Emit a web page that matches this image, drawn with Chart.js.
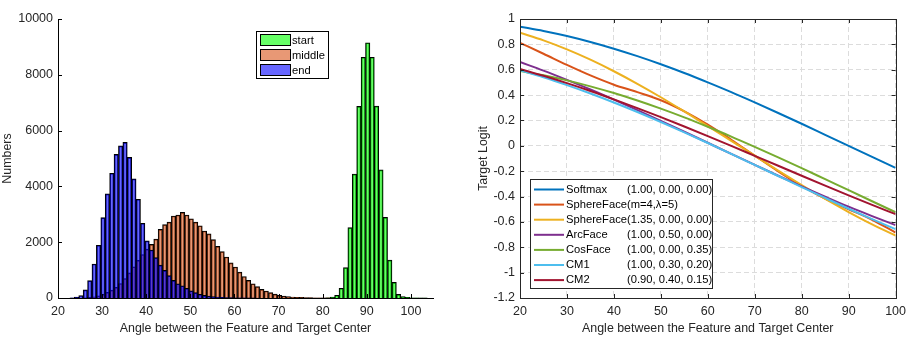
<!DOCTYPE html>
<html>
<head>
<meta charset="utf-8">
<script src="https://cdn.jsdelivr.net/npm/chart.js@4.4.1/dist/chart.umd.min.js"></script>
<style>
  html, body { margin: 0; padding: 0; background: #fff; }
  #wrap { position: relative; width: 912px; height: 338px; }
  canvas { position: absolute; top: 0; }
  #histChart { left: 0; }
  #logitChart { left: 456px; }
</style>
</head>
<body>
<div id="wrap">
  <canvas id="histChart" width="456" height="338"></canvas>
  <canvas id="logitChart" width="456" height="338"></canvas>
</div>
<script>
// Histogram data: left edge of first bin (bin width 1) and counts per bin
const histNames = ['start', 'middle', 'end'];
const startFirstEdge = 80.7;
const startCounts = [10, 30, 100, 350, 1090, 2520, 4440, 6870, 8630, 9150, 8630, 6880, 4590, 2890, 1360, 560, 130, 50, 25, 10, 5, 3, 2];
const middleFirstEdge = 25.7;
const middleCounts = [10, 20, 40, 80, 130, 200, 280, 380, 520, 700, 900, 1120, 1350, 1560, 1750, 1920,
  2110, 2460, 2630, 2720, 2940, 2975, 3070, 2975, 2840, 2720, 2590, 2400, 2300, 2090, 1850, 1660, 1470,
  1260, 1110, 930, 770, 630, 510, 410, 310, 250, 190, 140, 95, 72, 48, 36, 25, 20, 15, 12, 10, 8, 6, 4];
const endFirstEdge = 22.7;
const endCounts = [10, 30, 90, 290, 620, 1220, 1890, 2880, 3730, 4470, 5150, 5450, 5580, 5040, 4270, 3540,
  2680, 2050, 1720, 1450, 1180, 990, 800, 630, 510, 440, 350, 260, 190, 135, 95, 72, 50, 36, 25, 18, 12, 8, 6, 4, 3, 2, 1];
const histColors = ['rgba(0,255,0,0.6)', 'rgba(217,83,25,0.6)', 'rgba(0,0,255,0.6)'];
const histXTicks = [20, 100, 10];     // min, max, step
const histYTicks = [0, 10000, 2000];

// Target logit curves, read every 5 degrees
const angles = [20, 25, 30, 35, 40, 45, 50, 55, 60, 65, 70, 75, 80, 85, 90, 95, 100];
const softmax = [0.940, 0.906, 0.866, 0.819, 0.766, 0.707, 0.643, 0.574, 0.500, 0.423, 0.342, 0.259, 0.174, 0.087, 0.000, -0.087, -0.174];
const sphereFaceM4 = [0.812, 0.726, 0.638, 0.555, 0.482, 0.423, 0.359, 0.272, 0.167, 0.048, -0.077, -0.201, -0.316, -0.417, -0.500, -0.583, -0.684];
const sphereFace135 = [0.891, 0.831, 0.760, 0.679, 0.588, 0.489, 0.383, 0.271, 0.156, 0.039, -0.078, -0.195, -0.309, -0.419, -0.522, -0.619, -0.707];
const arcFace = [0.661, 0.593, 0.520, 0.444, 0.364, 0.281, 0.197, 0.111, 0.024, -0.064, -0.150, -0.236, -0.320, -0.401, -0.480, -0.554, -0.625];
const cosFace = [0.590, 0.556, 0.516, 0.469, 0.416, 0.357, 0.293, 0.224, 0.150, 0.073, -0.008, -0.091, -0.176, -0.263, -0.350, -0.437, -0.524];
const cm1 = [0.597, 0.541, 0.479, 0.413, 0.342, 0.267, 0.188, 0.106, 0.022, -0.064, -0.151, -0.238, -0.325, -0.411, -0.496, -0.578, -0.657];
const cm2 = [0.606, 0.552, 0.494, 0.432, 0.366, 0.297, 0.226, 0.152, 0.076, -0.001, -0.079, -0.157, -0.236, -0.314, -0.391, -0.466, -0.539];
const lineSeries = [softmax, sphereFaceM4, sphereFace135, arcFace, cosFace, cm1, cm2];
const lineNames = ['Softmax', 'SphereFace(m=4,\u03bb=5)', 'SphereFace(1.35, 0.00, 0.00)', 'ArcFace', 'CosFace', 'CM1', 'CM2'];
const lineParams = ['(1.00, 0.00, 0.00)', '', '', '(1.00, 0.50, 0.00)', '(1.00, 0.00, 0.35)', '(1.00, 0.30, 0.20)', '(0.90, 0.40, 0.15)'];
const lineColors = ['#0072BD', '#D95319', '#EDB120', '#7E2F8E', '#77AC30', '#4DBEEE', '#A2142F'];
const logitXTicks = [20, 100, 10];
const logitYTicks = [-1.2, 1, 0.2];

const xTitle = 'Angle between the Feature and Target Center';
const fontFamily = '"Liberation Sans", Arial, sans-serif';
const axisColor = '#262626';
Chart.defaults.font.family = fontFamily;
Chart.defaults.color = axisColor;

const tickFont = { size: 12.5 };
const titleFont = { size: 12.4 };
const legendFont = '11.2px ' + fontFamily;

function toBins(firstEdge, counts) {
    return counts.map((c, i) => ({ x: firstEdge + i + 0.5, y: c }));
}

// Inward tick marks (and optional full box) like MATLAB axes
const innerTicks = {
    id: 'innerTicks',
    afterDraw(chart, args, opts) {
        const { ctx, chartArea: a, scales } = chart;
        const len = 4;
        ctx.save();
        ctx.strokeStyle = opts.color;
        ctx.lineWidth = 1;
        ctx.beginPath();
        scales.x.ticks.forEach(t => {
            const px = Math.round(scales.x.getPixelForValue(t.value)) + 0.5;
            ctx.moveTo(px, a.bottom); ctx.lineTo(px, a.bottom - len);
            if (opts.box) { ctx.moveTo(px, a.top); ctx.lineTo(px, a.top + len); }
        });
        scales.y.ticks.forEach(t => {
            const py = Math.round(scales.y.getPixelForValue(t.value)) + 0.5;
            ctx.moveTo(a.left, py); ctx.lineTo(a.left + len, py);
            if (opts.box) { ctx.moveTo(a.right, py); ctx.lineTo(a.right - len, py); }
        });
        ctx.stroke();
        if (opts.box) {
            ctx.strokeRect(Math.round(a.left) + 0.5, Math.round(a.top) + 0.5,
                Math.round(a.right - a.left), Math.round(a.bottom - a.top));
        }
        ctx.restore();
    }
};

const histLegend = {
    id: 'histLegend',
    afterDraw(chart) {
        const ctx = chart.ctx;
        ctx.save();
        ctx.fillStyle = '#fff';
        ctx.fillRect(256.5, 31.5, 72, 47);
        ctx.strokeStyle = '#000';
        ctx.lineWidth = 1;
        ctx.strokeRect(256.5, 31.5, 72, 47);
        ctx.font = legendFont;
        ctx.textBaseline = 'middle';
        histNames.forEach((name, i) => {
            const y = 34.5 + i * 15;
            ctx.fillStyle = histColors[i];
            ctx.fillRect(260.5, y, 30, 11);
            ctx.strokeStyle = '#000';
            ctx.strokeRect(260.5, y, 30, 11);
            ctx.fillStyle = '#000';
            ctx.fillText(name, 292, y + 6);
        });
        ctx.restore();
    }
};

const logitLegend = {
    id: 'logitLegend',
    afterDraw(chart) {
        const ctx = chart.ctx;
        ctx.save();
        ctx.fillStyle = '#fff';
        ctx.fillRect(74.5, 179.5, 182, 109);
        ctx.font = legendFont;
        ctx.textBaseline = 'middle';
        lineNames.forEach((name, i) => {
            const y = 189.5 + i * 15.1;
            ctx.strokeStyle = lineColors[i];
            ctx.lineWidth = 2;
            ctx.beginPath();
            ctx.moveTo(78, y); ctx.lineTo(108, y);
            ctx.stroke();
            ctx.fillStyle = '#000';
            ctx.fillText(name, 110, y);
            if (lineParams[i]) ctx.fillText(lineParams[i], 171, y);
        });
        ctx.strokeStyle = axisColor;
        ctx.lineWidth = 1;
        ctx.strokeRect(74.5, 179.5, 182, 109);
        ctx.restore();
    }
};

// Left: overlapping histograms, each on its own (identical) x axis so bars keep a 1-degree width
const hiddenX = { type: 'linear', display: false, min: histXTicks[0], max: 105, offset: false };
new Chart(document.getElementById('histChart'), {
    type: 'bar',
    data: {
        datasets: [
            { label: histNames[0], data: toBins(startFirstEdge, startCounts), xAxisID: 'xs', backgroundColor: histColors[0], order: 3 },
            { label: histNames[1], data: toBins(middleFirstEdge, middleCounts), xAxisID: 'xm', backgroundColor: histColors[1], order: 2 },
            { label: histNames[2], data: toBins(endFirstEdge, endCounts), xAxisID: 'x', backgroundColor: histColors[2], order: 1 }
        ]
    },
    options: {
        responsive: false,
        animation: false,
        events: [],
        layout: { padding: { top: 19, right: 23, left: 0, bottom: 0 } },
        datasets: {
            bar: { grouped: false, barPercentage: 1, categoryPercentage: 1, borderWidth: 1, borderColor: '#000' }
        },
        plugins: { legend: { display: false }, tooltip: { enabled: false }, innerTicks: { color: '#000', box: false } },
        scales: {
            x: {
                type: 'linear', min: histXTicks[0], max: 105, offset: false,
                ticks: { stepSize: histXTicks[2], includeBounds: false, font: tickFont, padding: 6, maxRotation: 0, autoSkip: false },
                grid: { display: false, drawTicks: false, offset: false },
                border: { display: true, color: '#000', width: 1 },
                title: { display: true, text: xTitle, font: titleFont, padding: { top: 0, bottom: 1.5 } },
                afterFit: s => { s.height = 40; }
            },
            xs: hiddenX,
            xm: hiddenX,
            y: {
                min: histYTicks[0], max: histYTicks[1],
                ticks: { stepSize: histYTicks[2], font: tickFont, padding: 5, callback: v => String(v) },
                grid: { display: false, drawTicks: false },
                border: { display: true, color: '#000', width: 1 },
                title: { display: true, text: 'Numbers', font: titleFont, padding: { top: 0.5, bottom: 0 } },
                afterFit: s => { s.width = 58; }
            }
        }
    },
    plugins: [innerTicks, histLegend]
});

// Right: target logit curves
new Chart(document.getElementById('logitChart'), {
    type: 'line',
    data: {
        datasets: lineSeries.map((vals, i) => ({
            label: lineNames[i],
            data: vals.map((v, j) => ({ x: angles[j], y: v })),
            borderColor: lineColors[i],
            borderWidth: 2,
            pointRadius: 0,
            fill: false,
            cubicInterpolationMode: 'monotone',
            order: lineSeries.length - i
        }))
    },
    options: {
        responsive: false,
        animation: false,
        events: [],
        layout: { padding: { top: 19, right: 14, left: 0, bottom: 0 } },
        plugins: { legend: { display: false }, tooltip: { enabled: false }, innerTicks: { color: axisColor, box: true } },
        scales: {
            x: {
                type: 'linear', min: logitXTicks[0], max: logitXTicks[1],
                ticks: { stepSize: logitXTicks[2], font: tickFont, padding: 6, maxRotation: 0, autoSkip: false },
                grid: { color: '#dcdcdc', drawTicks: false },
                border: { display: false, dash: [5, 3] },
                title: { display: true, text: xTitle, font: titleFont, padding: { top: 0, bottom: 1.5 } },
                afterFit: s => { s.height = 40; }
            },
            y: {
                min: logitYTicks[0], max: logitYTicks[1],
                ticks: { stepSize: logitYTicks[2], font: tickFont, padding: 5, callback: v => String(Math.round(v * 10) / 10) },
                grid: { color: '#dcdcdc', drawTicks: false },
                border: { display: false, dash: [5, 3] },
                title: { display: true, text: 'Target Logit', font: titleFont, padding: { top: 20.5, bottom: 0 } },
                afterFit: s => { s.width = 64; }
            }
        }
    },
    plugins: [innerTicks, logitLegend]
});
</script>
</body>
</html>
